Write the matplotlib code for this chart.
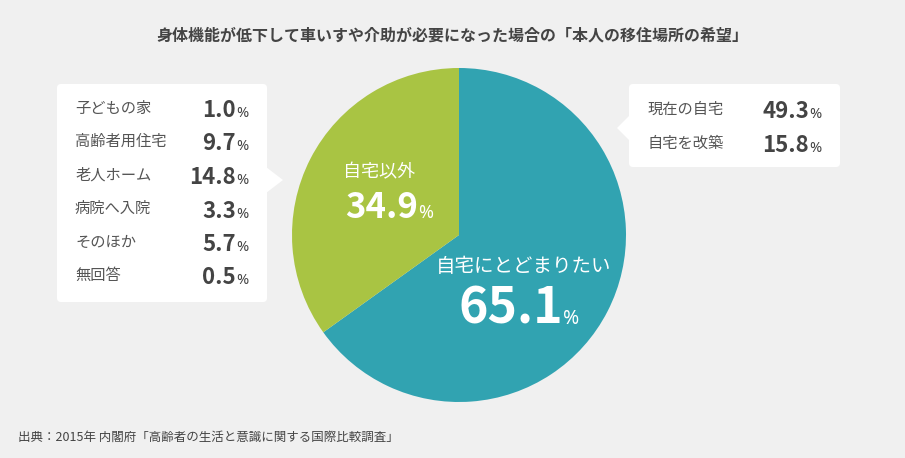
import matplotlib.pyplot as plt
from matplotlib.patches import FancyBboxPatch, Polygon

plt.rcParams['font.family'] = ['Noto Sans CJK JP', 'DejaVu Sans']

title = "身体機能が低下して車いすや介助が必要になった場合の「本人の移住場所の希望」"
source = "出典：2015年 内閣府「高齢者の生活と意識に関する国際比較調査」"

main_labels = ["自宅にとどまりたい", "自宅以外"]
main_values = [65.1, 34.9]
main_colors = ["#31a3b1", "#a9c443"]

stay_labels = ["現在の自宅", "自宅を改築"]
stay_values = [49.3, 15.8]

other_labels = ["子どもの家", "高齢者用住宅", "老人ホーム", "病院へ入院", "そのほか", "無回答"]
other_values = [1.0, 9.7, 14.8, 3.3, 5.7, 0.5]

W, H = 905, 458
fig = plt.figure(figsize=(W / 100, H / 100), dpi=100)
fig.patch.set_facecolor("#f0f0f0")
ax = fig.add_axes([0, 0, 1, 1])

# pixel coords, y measured from top
def Y(y):
    return H - y

ax.pie(main_values, colors=main_colors, startangle=90, counterclock=False,
       center=(459, Y(235)), radius=167, wedgeprops=dict(linewidth=0))
ax.set_xlim(0, W)
ax.set_ylim(0, H)
ax.set_aspect("equal")
ax.axis("off")

txt = "#444444"
lab_c = "#555555"

ax.text(452, Y(36), title, ha="center", va="center", fontsize=11.5,
        fontweight="bold", color=txt)
ax.text(18, Y(437), source, ha="left", va="center", fontsize=9, color=txt)

# boxes
def box(x0, y0, x1, y1, tip):
    ax.add_patch(FancyBboxPatch((x0, Y(y1)), x1 - x0, y1 - y0,
                                boxstyle="round,pad=0,rounding_size=4",
                                fc="white", ec="none", zorder=2))
    ax.add_patch(Polygon([(tip[0], Y(tip[1])), (tip[2], Y(tip[3])), (tip[4], Y(tip[5]))],
                         closed=True, fc="white", ec="none", zorder=2))

box(57, 84, 267, 302, (266, 167, 283, 180, 266, 193))
box(629, 84, 840, 167, (630, 115, 617, 128, 630, 141))

def value(x, y, v, size, psize, color=txt):
    ax.text(x, Y(y), f"{v:.1f}", ha="right", va="baseline", fontsize=size,
            fontweight="bold", color=color, zorder=3)
    ax.text(x, Y(y), "%", ha="left", va="baseline", fontsize=psize,
            family=["Noto Sans"], color=color, zorder=3)

for i, (lab, v) in enumerate(zip(other_labels, other_values)):
    y = 108 + i * 33.5
    ax.text(75, Y(y), lab, ha="left", va="center", fontsize=11, color=lab_c, zorder=3)
    value(236, y + 9, v, 16, 10.5)

for i, (lab, v) in enumerate(zip(stay_labels, stay_values)):
    y = 109 + i * 34
    ax.text(648, Y(y), lab, ha="left", va="center", fontsize=11, color=lab_c, zorder=3)
    value(809, y + 9, v, 16, 10.5)

# labels inside the pie
ax.text(343, Y(172), main_labels[1], ha="left", va="center", fontsize=13,
        color="white", zorder=3)
value(418, 218, main_values[1], 25, 13, color="white")
ax.text(436, Y(266), main_labels[0], ha="left", va="center", fontsize=14,
        color="white", zorder=3)
value(563, 324, main_values[0], 36, 14, color="white")

fig.savefig("out.png", dpi=100, facecolor=fig.get_facecolor())
